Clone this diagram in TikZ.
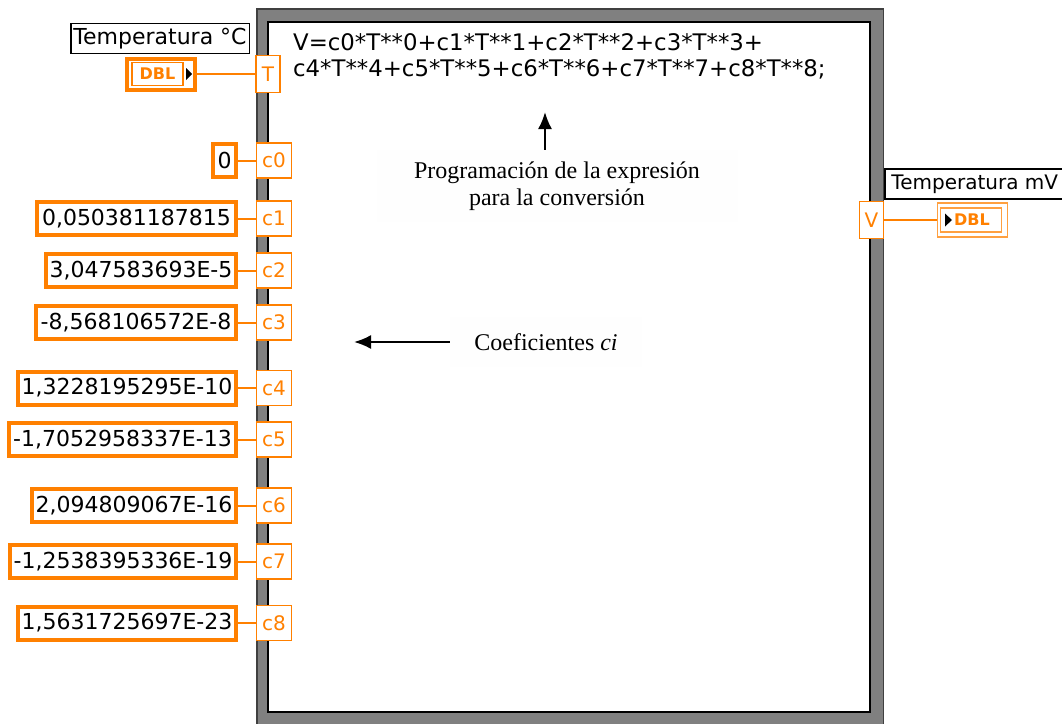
\documentclass[tikz,border=0pt]{standalone}
\usepackage{fontspec}
\setmainfont{Liberation Serif}
\newfontfamily\lvfont{DejaVu Sans}
\usetikzlibrary{arrows.meta}
\definecolor{lvorange}{RGB}{255,128,0}
\definecolor{lvgray}{RGB}{128,128,128}
\tikzset{
  lvtext/.style={font=\lvfont\fontsize{22}{26}\selectfont},
  const/.style={lvtext, draw=lvorange, line width=4pt, fill=white, minimum height=33pt, inner sep=2pt, anchor=east},
  term/.style={draw=lvorange, line width=1.5pt, fill=white, text=lvorange, font=\lvfont\fontsize{20}{24}\selectfont, minimum width=35pt, minimum height=35pt, inner sep=0pt},
  wire/.style={draw=lvorange, line width=2pt},
  lvlabel/.style={lvtext, draw=black, line width=1.5pt, fill=white, minimum height=30pt, inner sep=1.5pt},
  note/.style={font=\fontsize{24}{27}\selectfont, fill=white!99.5!black, align=center},
  dbl/.style={draw=lvorange, line width=1.2pt, text=lvorange, font=\lvfont\bfseries\fontsize{16}{18}\selectfont, inner sep=0pt}
}
\begin{document}
\begin{tikzpicture}[x=1pt, y=-1pt, >={Latex[length=17pt,width=14pt]}]
        \useasboundingbox (0,0) rectangle (1062,723);
        % Formula node
        \fill[lvgray] (256,8) rectangle (884,740);
        \draw[black!75, line width=1.5pt] (256.75,740) |- (883.25,8.75) -- (883.25,740);
        \fill[white] (268,22) rectangle (870,712);
        \draw[black, line width=2pt] (268,22) rectangle (870,712);
        \node[lvtext, font=\lvfont\fontsize{22.8}{26}\selectfont, anchor=north west, align=left, inner sep=0pt] (expr) at (293,33.5)
          {V=c0*T**0+c1*T**1+c2*T**2+c3*T**3+\\c4*T**4+c5*T**5+c6*T**6+c7*T**7+c8*T**8;};
        
        % Terminals
        \node[term, minimum width=24pt, minimum height=37pt] (tT) at (268,74) {T};
        \node[term] (tc0) at (274,160.5) {c0};
        \node[term] (tc1) at (274,218.5) {c1};
        \node[term] (tc2) at (274,270.5) {c2};
        \node[term] (tc3) at (274,322.5) {c3};
        \node[term] (tc4) at (274,388) {c4};
        \node[term] (tc5) at (274,439.5) {c5};
        \node[term] (tc6) at (274,505.5) {c6};
        \node[term] (tc7) at (274,561.5) {c7};
        \node[term] (tc8) at (274,623) {c8};
        \node[term, minimum width=24pt, minimum height=37pt] (tV) at (871.5,220) {V};
        
        % Constants
        \node[const, minimum width=23pt] (k0) at (238,160.5) {0};
        \node[const, minimum width=199pt] (k1) at (238,218.5) {0,050381187815};
        \node[const, minimum width=190pt] (k2) at (238,270.5) {3,047583693E-5};
        \node[const, minimum width=200pt] (k3) at (238,322.5) {-8,568106572E-8};
        \node[const, minimum width=218pt] (k4) at (238,388) {1,3228195295E-10};
        \node[const, minimum width=227pt] (k5) at (238,439.5) {-1,7052958337E-13};
        \node[const, minimum width=204pt] (k6) at (238,505.5) {2,094809067E-16};
        \node[const, minimum width=226pt] (k7) at (238,561.5) {-1,2538395336E-19};
        \node[const, minimum width=218pt] (k8) at (238,623) {1,5631725697E-23};
        \draw[wire] (k0) -- (tc0);
        \draw[wire] (k1) -- (tc1);
        \draw[wire] (k2) -- (tc2);
        \draw[wire] (k3) -- (tc3);
        \draw[wire] (k4) -- (tc4);
        \draw[wire] (k5) -- (tc5);
        \draw[wire] (k6) -- (tc6);
        \draw[wire] (k7) -- (tc7);
        \draw[wire] (k8) -- (tc8);
        
        % Control and indicator
        \node[lvlabel, minimum width=178.5pt] (lblT) at (160,38.5) {Temperatura °C};
        \node[draw=lvorange, line width=4pt, fill=white, minimum width=68pt, minimum height=31pt, inner sep=0pt] (ctl) at (161,74) {};
        \node[dbl, minimum width=51pt, minimum height=23pt] (ctlval) at (157.5,74) {DBL};
        \fill (186,68) -- (192,74) -- (186,80) -- cycle;
        \draw[wire] (ctl) -- (tT);
        
        \node[lvlabel, anchor=west, font=\lvfont\fontsize{20}{24}\selectfont, minimum width=180pt, align=left] (lblV) at (884,184) {Temperatura mV};
        \node[draw=lvorange!75, line width=1.5pt, fill=white, minimum width=70pt, minimum height=34pt, inner sep=0pt] (ind) at (972.5,220) {};
        \node[dbl, draw=lvorange!75, minimum width=61pt, minimum height=24pt] (indval) at (971,220) {};
        \node[dbl, draw=none] (indtxt) at (972,220) {DBL};
        \fill (945,213.5) -- (952,220) -- (945,226.5) -- cycle;
        \draw[wire] (tV) -- (ind);
        
        % Notes
        \node[note, minimum width=361pt, minimum height=72pt] (prog) at (557,186) {Programación de la expresión\\para la conversión};
        \coordinate (upTip) at (545,112);
        \draw[->, line width=2pt] (prog.north -| upTip) -- (upTip);
        \node[note, minimum width=192pt, minimum height=50pt] (coef) at (546,342) {Coeficientes \textit{ci}};
        \coordinate (leftTip) at (354,342);
        \draw[->, line width=2pt] (coef.west) -- (leftTip);
    \end{tikzpicture}
\end{document}
